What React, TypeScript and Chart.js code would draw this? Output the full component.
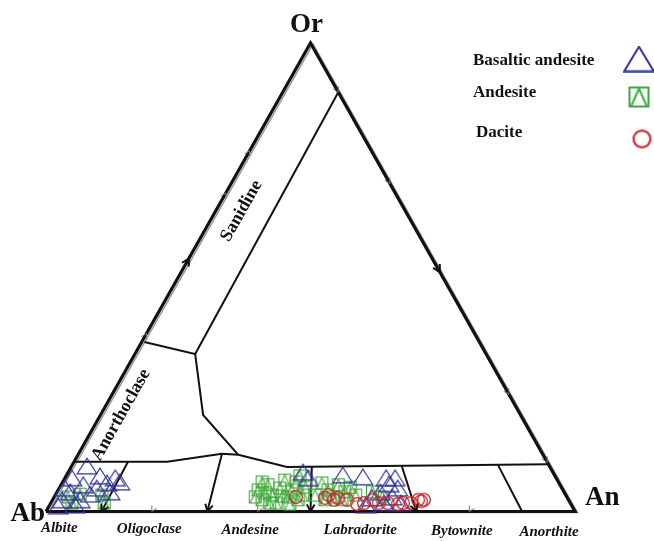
import { useEffect, useRef } from "react";
import { Chart, registerables } from "chart.js";

Chart.register(...registerables);

// ---------- DATA (ternary, values in %: [An, Or]; Ab = 100 - An - Or) ----------
const seriesNames = ["Basaltic andesite", "Andesite", "Dacite"];

const basalticAndesite: [number, number][] = [
  [2.9, 9.7], [6.4, 7.6], [9.5, 7.2], [1.3, 7.2], [4.2, 5.7], [8.5, 6.1], [10.8, 6.3],
  [2.5, 4.2], [6.5, 3.7], [1.8, 2.5], [5.2, 2.5], [7.1, 5.0], [4.8, 1.4], [1.7, 1.2],
  [10.0, 4.2], [1.1, 5.0],
  [44.4, 8.4], [46.0, 7.2], [52.2, 7.8], [56.2, 7.4], [60.7, 7.2], [61.9, 5.9], [64.0, 5.0],
  [61.1, 4.2], [60.2, 2.9], [63.9, 3.1], [66.2, 1.8], [63.0, 1.8], [59.8, 1.4], [62.4, 7.2],
];

const andesite: [number, number][] = [
  [2.6, 3.1], [4.6, 3.7], [4.0, 1.8], [8.8, 3.5], [10.1, 1.8],
  [37.8, 4.6], [39.6, 2.5], [39.1, 5.7], [41.0, 3.5], [42.6, 1.8], [41.7, 5.0], [41.8, 6.7],
  [44.2, 3.1], [44.2, 4.6], [44.1, 6.3], [44.2, 7.6], [46.8, 3.5], [46.5, 5.2], [39.4, 4.0],
  [43.0, 3.3], [46.4, 2.5], [41.4, 1.8], [45.3, 1.6], [38.0, 3.1], [37.7, 6.3],
  [49.1, 6.1], [51.0, 4.6], [52.7, 3.1], [52.4, 5.7], [54.4, 4.2], [54.9, 5.2], [56.8, 3.5],
  [49.1, 3.5], [51.5, 2.5], [54.7, 2.5], [59.6, 4.2], [62.0, 3.1],
];

const dacite: [number, number][] = [
  [45.7, 3.1], [51.3, 2.9], [51.7, 3.5], [53.2, 2.5], [53.8, 2.9], [55.7, 2.5], [58.0, 1.6],
  [59.2, 1.8], [60.6, 2.5], [62.0, 1.8], [63.7, 1.8], [65.7, 1.6], [66.6, 1.8], [68.1, 1.8],
  [69.1, 2.5], [69.8, 2.2], [70.2, 2.5],
];

const vertexNames = ["Ab", "An", "Or"];
const fieldNames = ["Albite", "Oligoclase", "Andesine", "Labradorite", "Bytownite", "Anorthite"];
const fieldLabelX = [2.5, 19.5, 38.6, 59.4, 78.6, 95.1];
const alkaliFieldNames = ["Sanidine", "Anorthoclase"];

// Boundary polylines, [An, Or]
const outline: [number, number][] = [[0, 0], [100, 0], [0, 100], [0, 0]];
const plagioclaseTop: [number, number][] = [
  [0, 10.6], [17.6, 10.6], [27.1, 12.3], [30.3, 12.1], [40.8, 9.5], [89.9, 10.1],
];
const anorthoclaseLine: [number, number][] = [[0.5, 36.2], [11.4, 33.6], [19.4, 20.6], [30.3, 12.1]];
const sanidineLine: [number, number][] = [[11.4, 33.6], [10.5, 89.5]];
const plagioclaseDividers: [number, number][][] = [
  [[10.2, 10.6], [10.5, 0]],
  [[27.1, 12.3], [30.5, 0]],
  [[45.4, 9.7], [50, 0]],
  [[62.4, 9.7], [70, 0]],
  [[80.5, 9.9], [90, 0]],
];
// arrow heads: [tip, point the arrow comes from]
const boldArrows: [number, number][][] = [
  [[10.5, 0], [10.2, 10.6]],
  [[30.5, 0], [27.1, 12.3]],
  [[50, 0], [45.4, 9.7]],
  [[70, 0], [62.4, 9.7]],
  [[0, 54], [0, 0]],
  [[48.9, 51.1], [0, 100]],
];
const thinArrows: [number, number][][] = [
  [[0, 38], [0, 0]],
  [[0, 68], [0, 0]],
  [[0, 77], [0, 0]],
  [[10.5, 89.5], [0, 100]],
  [[30, 70], [0, 100]],
  [[75, 25], [0, 100]],
  [[89.5, 10.5], [0, 100]],
  [[20, 0], [20, 5]],
  [[40, 0], [40, 5]],
  [[80, 0], [80, 5]],
];

// ---------- helpers ----------
const toXY = ([an, or]: [number, number]) => ({ x: an + or / 2, y: or });

const BLUE = "#2d3393";
const GREEN = "#3fa83a";
const RED = "#c9242c";
const SERIF = '"Liberation Serif", "DejaVu Serif", serif';

function makeTriangle(w: number, h: number, lw: number) {
  const c = document.createElement("canvas");
  c.width = w + 2; c.height = h + 2;
  const g = c.getContext("2d")!;
  g.strokeStyle = BLUE; g.lineWidth = lw; g.lineJoin = "miter";
  g.beginPath();
  g.moveTo(c.width / 2, 1.2);
  g.lineTo(c.width - 1.2, c.height - 1.2);
  g.lineTo(1.2, c.height - 1.2);
  g.closePath();
  g.stroke();
  return c;
}
function makeSquare(s: number, lw: number) {
  const c = document.createElement("canvas");
  c.width = s + 2; c.height = s + 2;
  const g = c.getContext("2d")!;
  g.strokeStyle = GREEN; g.lineWidth = lw;
  g.strokeRect(1 + lw / 2, 1 + lw / 2, s - lw, s - lw);
  g.beginPath();
  g.moveTo(1 + lw * 1.5, s + 1 - lw);
  g.lineTo(c.width / 2, 1 + lw);
  g.lineTo(s + 1 - lw * 1.5, s + 1 - lw);
  g.stroke();
  return c;
}
function makeCircle(r: number, lw: number) {
  const c = document.createElement("canvas");
  c.width = c.height = Math.ceil(2 * r + 2);
  const g = c.getContext("2d")!;
  g.strokeStyle = RED; g.lineWidth = lw;
  g.beginPath();
  g.arc(c.width / 2, c.height / 2, r - lw / 2, 0, Math.PI * 2);
  g.stroke();
  return c;
}

export default function App() {
  const ref = useRef<HTMLCanvasElement | null>(null);

  useEffect(() => {
    document.body.style.margin = "0";
    const canvas = ref.current!;
    const tri = makeTriangle(20, 16, 1.2);
    const sq = makeSquare(13, 1.1);
    const circ = makeCircle(7, 1.3);
    const legendMarks = [makeTriangle(30, 25, 2), makeSquare(21, 2), makeCircle(9.5, 2.2)];

    const lineDs = (pts: [number, number][], width: number) => ({
      type: "scatter" as const,
      data: pts.map(toXY),
      showLine: true,
      borderColor: "#111",
      borderWidth: width,
      pointRadius: 0,
      fill: false,
      tension: 0,
      borderJoinStyle: "miter" as const,
    });

    const px = (chart: any, p: [number, number]) => {
      const q = toXY(p);
      return [chart.scales.x.getPixelForValue(q.x), chart.scales.y.getPixelForValue(q.y)];
    };

    const drawArrow = (ctx: CanvasRenderingContext2D, chart: any, tip: [number, number], from: [number, number], len: number) => {
      const [tx, ty] = px(chart, tip);
      const [fx, fy] = px(chart, from);
      const d = Math.hypot(fx - tx, fy - ty);
      const ux = (fx - tx) / d, uy = (fy - ty) / d;
      const a = 0.5;
      for (const s of [-1, 1]) {
        const c = Math.cos(a * s), sn = Math.sin(a * s);
        const vx = ux * c - uy * sn, vy = ux * sn + uy * c;
        ctx.beginPath();
        ctx.moveTo(tx, ty);
        ctx.lineTo(tx + vx * len, ty + vy * len);
        ctx.stroke();
      }
    };

    const decor = {
      id: "decor",
      beforeDatasetsDraw(chart: any) {
        const ctx = chart.ctx as CanvasRenderingContext2D;
        ctx.save();
        ctx.strokeStyle = "#9a9a9a";
        ctx.lineWidth = 1.5;
        ctx.beginPath();
        outline.forEach((p, i) => {
          const [x, y] = px(chart, p);
          if (i === 0) ctx.moveTo(x + 2.5, y + 1); else ctx.lineTo(x + 2.5, y + 1);
        });
        ctx.stroke();
        ctx.restore();
      },
      afterDraw(chart: any) {
        const ctx = chart.ctx as CanvasRenderingContext2D;
        ctx.save();
        // arrows
        ctx.strokeStyle = "#111"; ctx.lineWidth = 2;
        boldArrows.forEach(([t, f]) => drawArrow(ctx, chart, t, f, 8));
        ctx.strokeStyle = "#777"; ctx.lineWidth = 1;
        thinArrows.forEach(([t, f]) => drawArrow(ctx, chart, t, f, 6));

        // vertex labels
        ctx.fillStyle = "#111";
        ctx.font = `bold 27px ${SERIF}`;
        ctx.textBaseline = "alphabetic";
        const [abx, aby] = px(chart, [0, 0]);
        const [anx, any_] = px(chart, [100, 0]);
        const [orx, ory] = px(chart, [0, 100]);
        ctx.textAlign = "right"; ctx.fillText(vertexNames[0], abx - 1, aby + 9);
        ctx.textAlign = "left"; ctx.fillText(vertexNames[1], anx + 10, any_ - 7);
        ctx.textAlign = "center"; ctx.fillText(vertexNames[2], orx - 4, ory - 11);

        // field names along the base
        ctx.font = `italic bold 15px ${SERIF}`;
        fieldNames.forEach((n, i) => {
          const x = chart.scales.x.getPixelForValue(fieldLabelX[i]);
          const y = chart.scales.y.getPixelForValue(-4.4) + i * 0.7;
          ctx.fillText(n, x, y);
        });

        // rotated field names
        const ang = Math.atan2(ory - aby, orx - abx);
        ctx.font = `bold 18px ${SERIF}`;
        ctx.textBaseline = "middle";
        const rot: [string, number, number][] = [
          [alkaliFieldNames[0], chart.scales.x.getPixelForValue(36.96), chart.scales.y.getPixelForValue(64.14)],
          [alkaliFieldNames[1], chart.scales.x.getPixelForValue(14.18), chart.scales.y.getPixelForValue(20.6)],
        ];
        rot.forEach(([t, x, y]) => {
          ctx.save();
          ctx.translate(x, y);
          ctx.rotate(ang);
          ctx.fillText(t, 0, 0);
          ctx.restore();
        });

        // legend
        ctx.textBaseline = "alphabetic";
        ctx.textAlign = "left";
        ctx.font = `bold 17px ${SERIF}`;
        const ly = [65, 97, 137];
        const lx = [473, 473, 476];
        const mx = [639, 639, 642];
        const my = [59, 97, 139];
        seriesNames.forEach((n, i) => {
          ctx.fillText(n, lx[i], ly[i]);
          const m = legendMarks[i];
          ctx.drawImage(m, mx[i] - m.width / 2, my[i] - m.height / 2);
        });
        ctx.restore();
      },
    };

    const chart = new Chart(canvas, {
      type: "scatter",
      data: {
        datasets: [
          { label: seriesNames[2], data: dacite.map(toXY), pointStyle: circ as any, pointRadius: 7 },
          { label: seriesNames[0], data: basalticAndesite.map(toXY), pointStyle: tri as any, pointRadius: 9 },
          { label: seriesNames[1], data: andesite.map(toXY), pointStyle: sq as any, pointRadius: 7 },
          lineDs(outline, 3.2) as any,
          lineDs(plagioclaseTop, 2) as any,
          lineDs(anorthoclaseLine, 2) as any,
          lineDs(sanidineLine, 2) as any,
          ...plagioclaseDividers.map((d) => lineDs(d, 2) as any),
        ],
      },
      options: {
        animation: false,
        responsive: false,
        maintainAspectRatio: false,
        events: [],
        layout: { padding: 0, autoPadding: false },
        plugins: { legend: { display: false }, tooltip: { enabled: false } },
        scales: {
          x: { type: "linear", display: false, min: -8.6957, max: 114.93 },
          y: { type: "linear", display: false, min: -6.2967, max: 109.18 },
        },
      },
      plugins: [decor],
    });
    return () => chart.destroy();
  }, []);

  return <canvas ref={ref} width={654} height={541} style={{ display: "block" }} />;
}
